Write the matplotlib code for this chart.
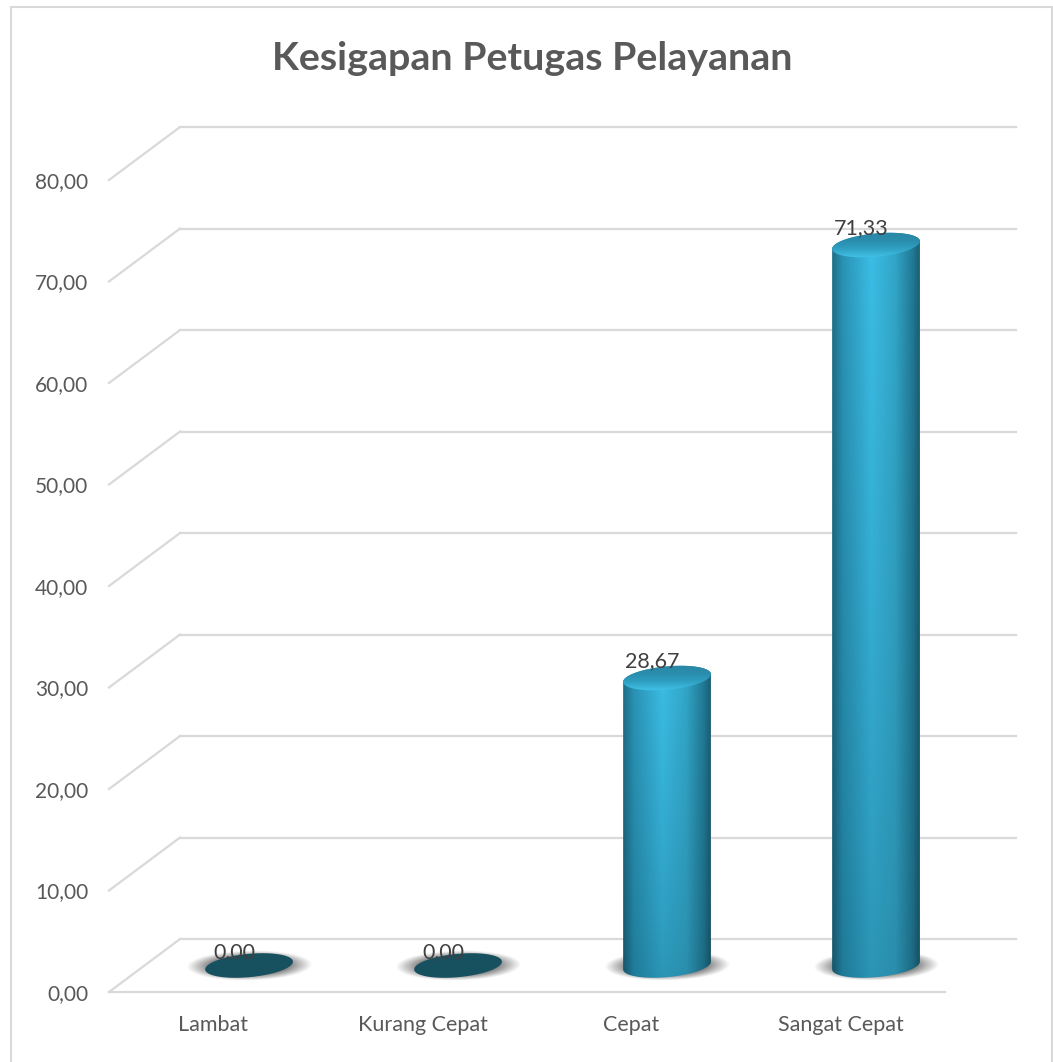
import numpy as np
import matplotlib.pyplot as plt
from matplotlib.patches import Polygon, Rectangle
from matplotlib.colors import to_rgb

plt.rcParams['font.family'] = ['Lato', 'DejaVu Sans']

# Data
categories = ['Lambat', 'Kurang Cepat', 'Cepat', 'Sangat Cepat']
values = [0.00, 0.00, 28.67, 71.33]
value_labels = ['0,00', '0,00', '28,67', '71,33']
y_ticks = [0, 10, 20, 30, 40, 50, 60, 70, 80]
y_tick_labels = ['0,00', '10,00', '20,00', '30,00', '40,00', '50,00', '60,00', '70,00', '80,00']

W, H = 1053, 1062
fig = plt.figure(figsize=(W / 100, H / 100), dpi=100, facecolor='white')
ax = fig.add_axes([109 / W, 1 - 992 / H, 836 / W, 812 / H])

# Chart frame, the bottom edge falls outside the picture
fig.add_artist(Rectangle((10.5 / W, -10 / H), 1041 / W, (H + 10 - 7) / H, transform=fig.transFigure,
                         fill=False, edgecolor='#d9d9d9', linewidth=1.5))

# Depth of the fake 3D floor/wall, in data units
dx = 0.34
dy = 5.22
grid_color = '#d9d9d9'

for v in y_ticks:
    ax.plot([-0.5, -0.5 + dx], [v, v + dy], color=grid_color, lw=1.6, clip_on=False, zorder=1)
    ax.plot([-0.5 + dx, 3.5 + dx], [v + dy, v + dy], color=grid_color, lw=1.6, clip_on=False, zorder=1)
ax.plot([-0.5, 3.5], [0, 0], color=grid_color, lw=1.6, clip_on=False, zorder=1)

# Cylinder geometry
bar_w = 0.21       # half width
ell_h = 1.15       # half height of the ellipse
tilt = 0.38        # ellipse rises to the right
base_y = dy / 2
t = np.linspace(0, 2 * np.pi, 121)

# Colour stops across the cylinder, bright (top) and dull (bottom)
stops = [0.0, 0.12, 0.45, 0.72, 0.92, 1.0]
top_cols = ['#1f6f88', '#2a93b5', '#3bbee6', '#32a6c8', '#217a95', '#1b5f75']
bot_cols = ['#175468', '#1f7a98', '#2b94b5', '#2a8dac', '#1c6a83', '#174f62']


def side_gradient(cols, u):
    rgb = np.array([to_rgb(c) for c in cols])
    return np.stack([np.interp(u, stops, rgb[:, k]) for k in range(3)], axis=-1)


for i, val in enumerate(values):
    cx = i + dx / 2
    top = base_y + val - 0.35

    # Shadow under the bar
    xs = np.linspace(cx - 0.34, cx + 0.34, 160)
    ys = np.linspace(base_y - 1.7, base_y + 1.7, 60)
    xx, yy = np.meshgrid(xs, ys)
    r = np.sqrt(((xx - cx) / 0.285) ** 2 + ((yy - base_y - (xx - cx) * 0.4) / 1.4) ** 2)
    shadow = np.zeros(xx.shape + (4,))
    shadow[..., :3] = 0.42
    shadow[..., 3] = np.clip((1.05 - r) / 0.4, 0, 1) * 0.88
    ax.imshow(shadow, extent=[xs[0], xs[-1], ys[0], ys[-1]], origin='lower', aspect='auto',
              interpolation='bilinear', zorder=2, clip_on=False)

    ex = bar_w * np.cos(t)
    ey = ell_h * np.sin(t) + tilt * np.cos(t)

    if val == 0:
        ax.add_patch(Polygon(np.c_[cx + ex, base_y + ey], closed=True, facecolor='#17505f',
                             edgecolor='none', zorder=3))
    else:
        # Body: bottom half of base ellipse + top half of the upper ellipse
        lower = t[(t >= np.pi) & (t <= 2 * np.pi)]
        upper = t[t <= np.pi]
        px = np.r_[cx + bar_w * np.cos(lower), cx + bar_w * np.cos(upper)]
        py = np.r_[base_y + ell_h * np.sin(lower) + tilt * np.cos(lower),
                   top + ell_h * np.sin(upper) + tilt * np.cos(upper)]
        body = Polygon(np.c_[px, py], closed=True, facecolor='none', edgecolor='none',
                       transform=ax.transData)
        ax.add_patch(body)

        u = np.linspace(0, 1, 120)
        frac = np.linspace(0, 1, 100) ** 0.8
        bright = side_gradient(top_cols, u)
        dull = side_gradient(bot_cols, u)
        img = np.array([dull * (1 - f) + bright * f for f in frac])
        im = ax.imshow(img, extent=[cx - bar_w, cx + bar_w, base_y - 1.6, top + 1.6], origin='lower',
                       aspect='auto', interpolation='bilinear', zorder=3)
        im.set_clip_path(body)

        # Top cap with its light rim
        cap = Polygon(np.c_[cx + ex, top + ey], closed=True, facecolor='none', edgecolor='none',
                      transform=ax.transData)
        ax.add_patch(cap)
        cap_rgb = np.array([to_rgb(c) for c in ['#3fbde2', '#2f9fc2', '#2a8dad', '#2a87a6']])[:, None, :]
        im2 = ax.imshow(cap_rgb, extent=[cx - bar_w, cx + bar_w, top - 1.5, top + 1.5], origin='lower',
                        aspect='auto', interpolation='bilinear', zorder=4)
        im2.set_clip_path(cap)

    # Value label, shifted left of the bar centre
    ax.annotate(value_labels[i], xy=(cx, top), xytext=(-10.5, 12), textcoords='offset points',
                ha='center', va='center', fontsize=15.5, color='#404040', zorder=6,
                annotation_clip=False)

ax.set_xlim(-0.5, 3.5)
ax.set_ylim(0, 80)
ax.set_xticks(range(4))
ax.set_xticklabels(categories, fontsize=15.5, color='#595959')
ax.set_yticks(y_ticks)
ax.set_yticklabels(y_tick_labels, fontsize=15, color='#595959')
ax.tick_params(axis='both', length=0)
ax.tick_params(axis='y', pad=15)
ax.tick_params(axis='x', pad=16.5)
for s in ax.spines.values():
    s.set_visible(False)
ax.patch.set_alpha(0)

fig.text(532 / W, 1 - 58 / H, 'Kesigapan Petugas Pelayanan', ha='center', va='center',
         fontsize=28.4, fontweight='bold', color='#595959')

plt.savefig('out.png', dpi=100)
